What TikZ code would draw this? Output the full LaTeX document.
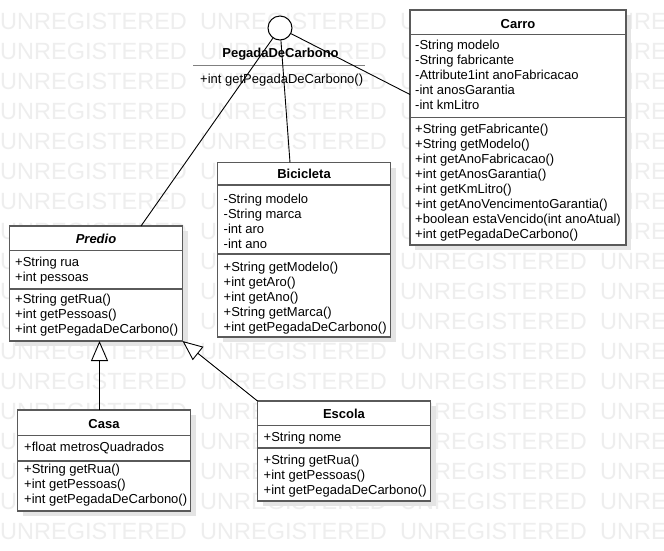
\documentclass[tikz,border=0pt]{standalone}
\usepackage{fontspec}
\setmainfont{Liberation Sans}
\usetikzlibrary{arrows.meta,shadows,calc}
\definecolor{boxline}{HTML}{5A5A5A}
\definecolor{wm}{HTML}{EEEEEE}
\definecolor{shadowc}{HTML}{E4E4E4}
\definecolor{ulgray}{HTML}{808080}
\newcommand{\umlfont}{\fontsize{13}{15}\selectfont}
\newcommand{\mlines}[1]{\begin{tabular}[t]{@{}l@{}}#1\end{tabular}}
\begin{document}
\begin{tikzpicture}[x=1pt,y=-1pt,
  classbox/.style={draw=boxline, line width=1.5pt, fill=white, inner sep=0pt, outer sep=0pt, anchor=north west,
    drop shadow={shadow xshift=5pt, shadow yshift=-5pt, fill=shadowc, opacity=1}},
  sepline/.style={draw=boxline, line width=1.5pt},
  ctitle/.style={font=\umlfont\bfseries, inner sep=0pt, anchor=base},
  members/.style={font=\umlfont, inner sep=0pt, anchor=base west},
  wmark/.style={font=\fontsize{23.5}{24}\selectfont, text=wm, inner sep=0pt, anchor=base west},
  conn/.style={draw=black, line width=0.9pt},
  gen/.style={conn, -{Triangle[length=20pt,width=17pt,fill=white]}},
  iface/.style={circle, draw=black, line width=1pt, fill=white, minimum size=24pt, inner sep=0pt},
]
\useasboundingbox (0,0) rectangle (664,550);
\clip (0,0) rectangle (664,550);
\fill[white] (0,0) rectangle (664,550);
% watermark
\foreach \r in {0,...,17}{
  \foreach \c in {0,...,3}{
    \node[wmark] (wm\r-\c) at (200*\c, 29.4+30*\r) {UNREGISTERED};
  }
}
% interface
\node[iface] (pegada) at (280,28) {};
\node[ctitle] (pegadaT) at (280.5,57.5) {PegadaDeCarbono};
\draw[draw=ulgray, line width=1.5pt] (193,65.7) -- (365,65.7);
\node[members] (pegadaM) at (200,83) {+int getPegadaDeCarbono()};

% Carro
\node[classbox, minimum width=216pt, minimum height=235pt] (carro) at (410,10) {};
\draw[sepline] (410,34.3) -- (626,34.3);
\draw[sepline] (410,117.3) -- (626,117.3);
\node[ctitle] (carroT) at (518,28) {Carro};
\node[members] (carroF) at (415,49.5) {\mlines{-String modelo\\-String fabricante\\-Attribute1int anoFabricacao\\-int anosGarantia\\-int kmLitro}};
\node[members] (carroM) at (415,133) {\mlines{+String getFabricante()\\+String getModelo()\\+int getAnoFabricacao()\\+int getAnosGarantia()\\+int getKmLitro()\\+int getAnoVencimentoGarantia()\\+boolean estaVencido(int anoAtual)\\+int getPegadaDeCarbono()}};

% Bicicleta
\node[classbox, minimum width=173pt, minimum height=174.5pt] (bici) at (217.5,162.5) {};
\draw[sepline] (217.5,185) -- (390.5,185);
\draw[sepline] (217.5,254) -- (390.5,254);
\node[ctitle] (biciT) at (304,178.5) {Bicicleta};
\node[members] (biciF) at (223.5,203) {\mlines{-String modelo\\-String marca\\-int aro\\-int ano}};
\node[members] (biciM) at (223.5,271) {\mlines{+String getModelo()\\+int getAro()\\+int getAno()\\+String getMarca()\\+int getPegadaDeCarbono()}};

% Predio
\node[classbox, minimum width=173pt, minimum height=115pt] (predio) at (9.5,226) {};
\draw[sepline] (9.5,250.7) -- (182.5,250.7);
\draw[sepline] (9.5,289) -- (182.5,289);
\node[ctitle, font=\umlfont\bfseries\itshape] (predioT) at (96,243.5) {Predio};
\node[members] (predioF) at (15,266) {\mlines{+String rua\\+int pessoas}};
\node[members] (predioM) at (15,303.5) {\mlines{+String getRua()\\+int getPessoas()\\+int getPegadaDeCarbono()}};

% Casa
\node[classbox, minimum width=173pt, minimum height=101pt] (casa) at (17.5,410) {};
\draw[sepline] (17.5,435.7) -- (190.5,435.7);
\draw[sepline] (17.5,461) -- (190.5,461);
\node[ctitle] (casaT) at (104,428) {Casa};
\node[members] (casaF) at (24,451) {\mlines{+float metrosQuadrados}};
\node[members] (casaM) at (24,473) {\mlines{+String getRua()\\+int getPessoas()\\+int getPegadaDeCarbono()}};

% Escola
\node[classbox, minimum width=173pt, minimum height=100pt] (escola) at (257.5,401) {};
\draw[sepline] (257.5,425.5) -- (430.5,425.5);
\draw[sepline] (257.5,448) -- (430.5,448);
\node[ctitle] (escolaT) at (344,418.5) {Escola};
\node[members] (escolaF) at (263.5,441.5) {\mlines{+String nome}};
\node[members] (escolaM) at (263.5,464) {\mlines{+String getRua()\\+int getPessoas()\\+int getPegadaDeCarbono()}};

% realizations of the interface
\draw[conn] (pegada) -- ([xshift=131.5pt]predio.north west);
\draw[conn] (pegada) -- ([xshift=72.5pt]bici.north west);
\draw[conn] (pegada) -- ([yshift=33pt]carro.west);

% generalizations
\draw[gen] ([xshift=-4.5pt]casa.north) -- ([xshift=-4.5pt]casa.north |- predio.south);
\draw[gen] (escola.north west) -- (predio.south east);
\end{tikzpicture}
\end{document}
